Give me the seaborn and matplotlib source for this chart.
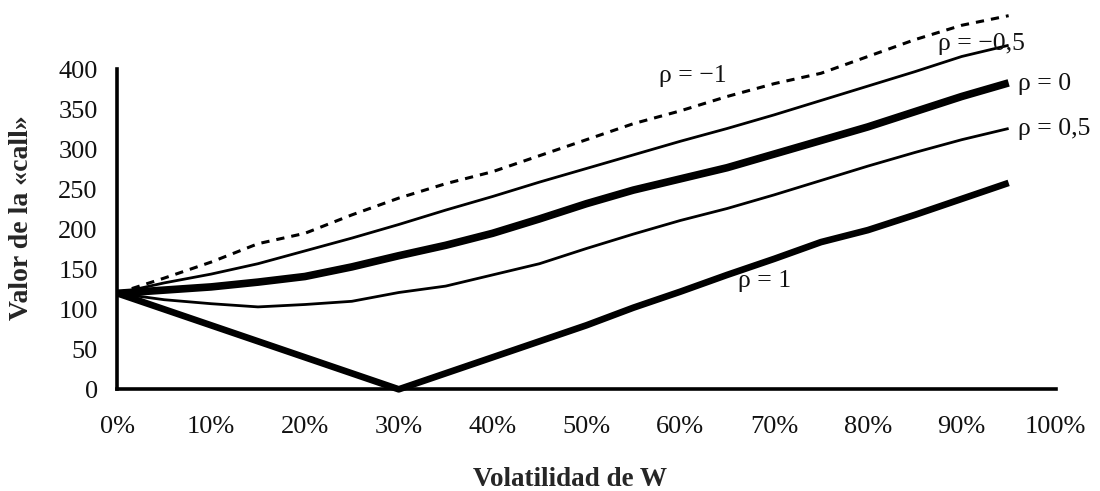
import numpy as np
import pandas as pd
import matplotlib
matplotlib.use("Agg")
import matplotlib.pyplot as plt
import seaborn as sns
from matplotlib.ticker import PercentFormatter

# Volatility of W (fraction) and value of the call for each correlation rho
volatilidad = [0.00, 0.05, 0.10, 0.15, 0.20, 0.25, 0.30, 0.35, 0.40, 0.45,
               0.50, 0.55, 0.60, 0.65, 0.70, 0.75, 0.80, 0.85, 0.90, 0.95]
rho_m1 = [120, 139, 159, 182, 195, 218, 239, 257, 272, 292,
          312, 332, 348, 366, 382, 395, 416, 437, 455, 467]
rho_m05 = [120, 133, 144, 157, 173, 189, 206, 224, 241, 259,
           276, 293, 310, 326, 343, 361, 379, 397, 416, 430]
rho_0 = [120, 124, 128, 134, 141, 153, 167, 180, 195, 213,
         232, 249, 263, 277, 294, 311, 328, 347, 366, 383]
rho_05 = [120, 112, 107, 103, 106, 110, 121, 129, 143, 157,
          176, 194, 211, 226, 243, 261, 279, 296, 312, 326]
rho_1 = [120, 100, 80, 60, 40, 20, 0, 20, 40, 60,
         80, 102, 122, 143, 163, 184, 199, 218, 238, 258]

etiquetas = ["\u03c1 = \u22121", "\u03c1 = \u22120,5", "\u03c1 = 0", "\u03c1 = 0,5", "\u03c1 = 1"]
# label anchor (x, y) in data units
etiqueta_x = [0.577, 0.875, 0.960, 0.960, 0.662]
etiqueta_y = [384, 424, 374, 318, 128]

sns.set_style("white")
plt.rcParams['font.family'] = ['Liberation Serif', 'DejaVu Serif']

fig = plt.figure(figsize=(11, 4.91), dpi=100)
ax = fig.add_axes([0.1066, 0.2071, 0.853, 0.7929])

series = [rho_m1, rho_m05, rho_0, rho_05, rho_1]
widths = [2.2, 2.0, 5.5, 2.0, 4.8]
styles = [(0, (2.7, 2.3)), "-", "-", "-", "-"]

for vals, lw, ls in zip(series, widths, styles):
    sns.lineplot(x=volatilidad, y=vals, ax=ax, color="black", linewidth=lw,
                 linestyle=ls, solid_capstyle="butt", solid_joinstyle="round",
                 clip_on=False, zorder=3)

for txt, tx, ty in zip(etiquetas, etiqueta_x, etiqueta_y):
    ax.text(tx, ty, txt, fontsize=18.5, ha="left", va="baseline", color="#111111")

ax.set_xlim(0, 1)
ax.set_ylim(0, 486.6)
ax.set_xticks(np.arange(0, 1.01, 0.1))
ax.set_yticks(np.arange(0, 401, 50))
ax.xaxis.set_major_formatter(PercentFormatter(xmax=1, decimals=0))

for side in ["top", "right"]:
    ax.spines[side].set_visible(False)
for side in ["left", "bottom"]:
    ax.spines[side].set_linewidth(2.6)
    ax.spines[side].set_color("black")
ax.spines["left"].set_bounds(0, 400)

ax.tick_params(axis="both", direction="inout", length=12.2, width=2.6,
               colors="black", labelsize=19, labelcolor="#111111")
ax.tick_params(axis="y", pad=8)
ax.tick_params(axis="x", pad=13)

fig.text(22 / 1100, 1 - 218 / 491, "Valor de la \u00abcall\u00bb", rotation=90,
         fontsize=20, fontweight="bold", ha="center", va="center")
fig.text(570 / 1100, 1 - 480 / 491, "Volatilidad de W",
         fontsize=19.5, fontweight="bold", ha="center", va="center")

fig.savefig("out.png", dpi=100)
